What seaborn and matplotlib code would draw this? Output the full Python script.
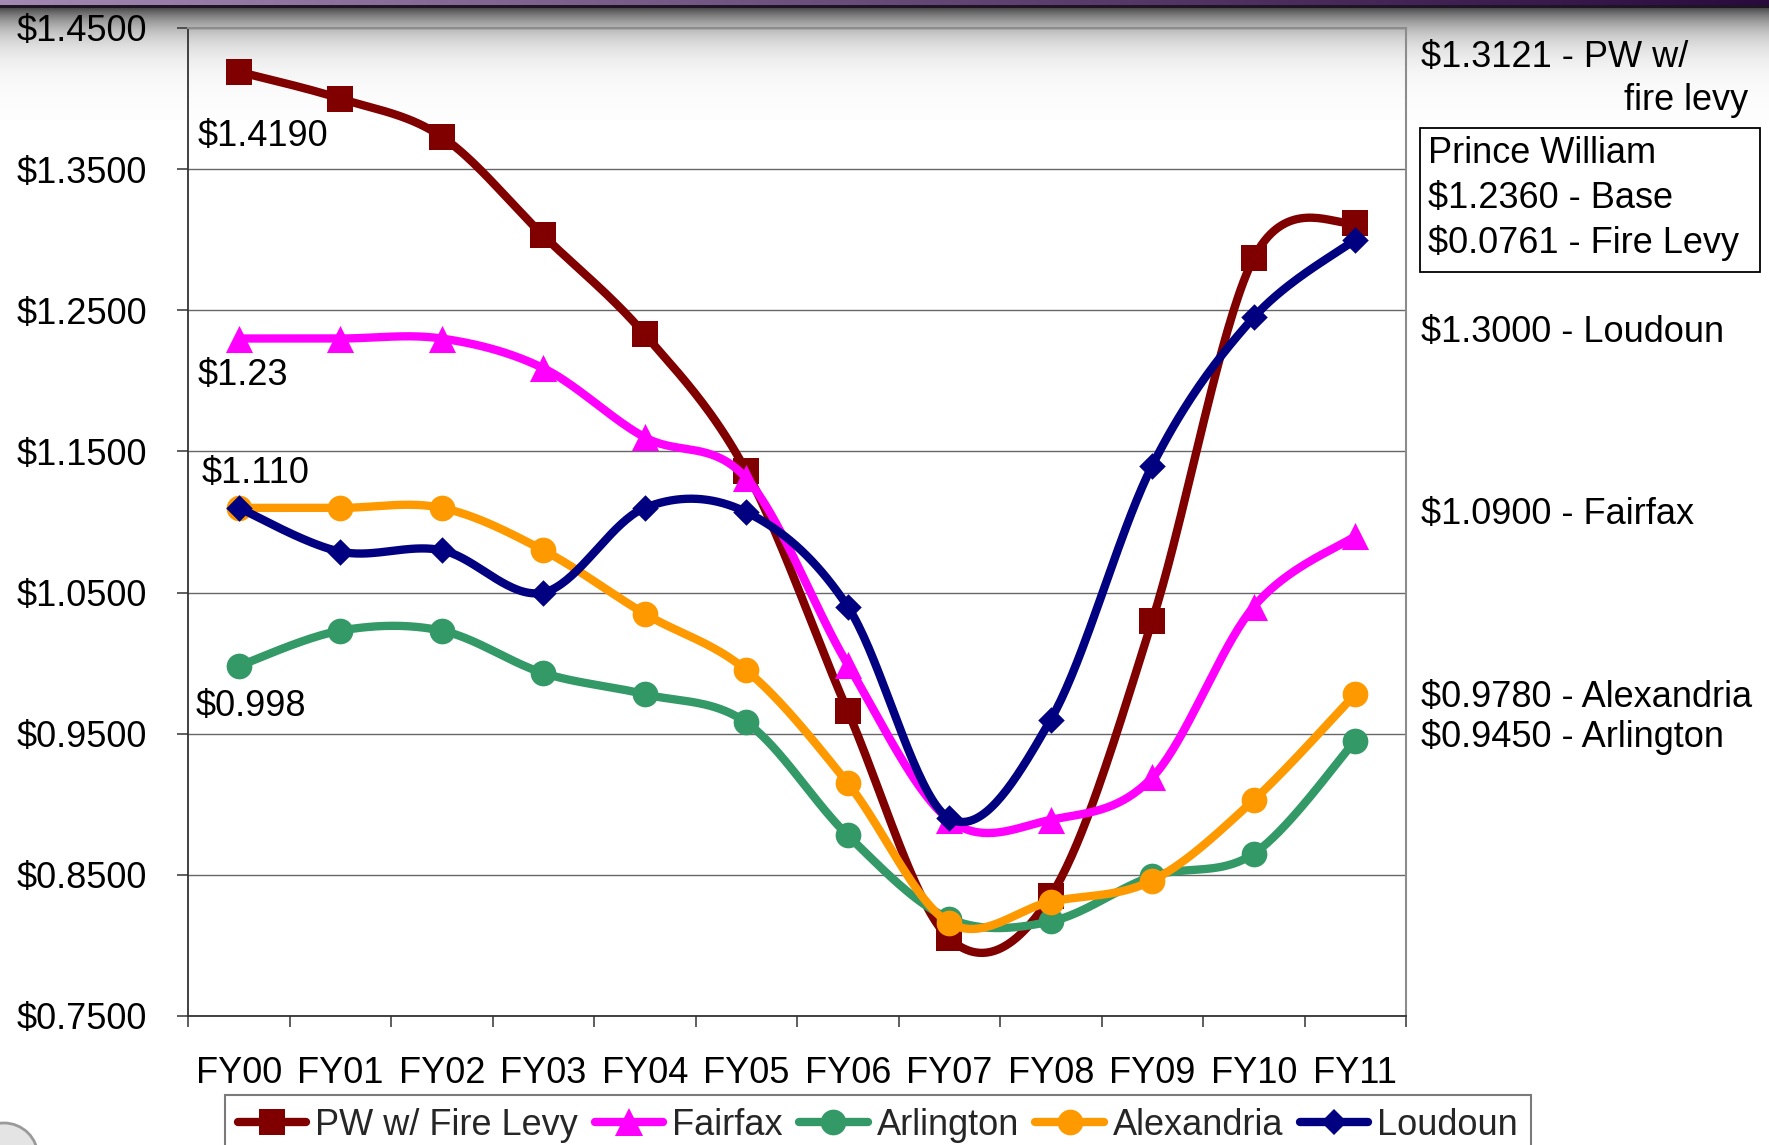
import numpy as np
import matplotlib
matplotlib.use("Agg")
import matplotlib.pyplot as plt
from matplotlib.lines import Line2D
from matplotlib.patches import Rectangle, Circle
import seaborn as sns

# ---- data -------------------------------------------------------------
years = ["FY00", "FY01", "FY02", "FY03", "FY04", "FY05",
         "FY06", "FY07", "FY08", "FY09", "FY10", "FY11"]

pw_fire_levy = [1.419, 1.400, 1.373, 1.303, 1.233, 1.136,
                0.966, 0.805, 0.835, 1.030, 1.287, 1.3121]
fairfax = [1.230, 1.230, 1.230, 1.209, 1.160, 1.131,
           0.999, 0.889, 0.889, 0.919, 1.040, 1.090]
arlington = [0.998, 1.023, 1.023, 0.993, 0.978, 0.958,
             0.878, 0.819, 0.817, 0.849, 0.865, 0.945]
alexandria = [1.110, 1.110, 1.110, 1.080, 1.035, 0.995,
              0.915, 0.816, 0.831, 0.846, 0.903, 0.978]
loudoun = [1.110, 1.079, 1.080, 1.050, 1.110, 1.107,
           1.040, 0.890, 0.960, 1.140, 1.245, 1.300]

series_names = ["PW w/ Fire Levy", "Fairfax", "Arlington", "Alexandria", "Loudoun"]
series_values = [pw_fire_levy, fairfax, arlington, alexandria, loudoun]

y_ticks = [0.75, 0.85, 0.95, 1.05, 1.15, 1.25, 1.35, 1.45]

left_notes = [("$1.4190", 198, 146), ("$1.23", 198, 385),
              ("$1.110", 202, 483), ("$0.998", 196, 716)]
right_notes = [("$1.3121 - PW w/", 1421, 67),
               ("$1.3000 - Loudoun", 1421, 342),
               ("$1.0900 - Fairfax", 1421, 524),
               ("$0.9780 - Alexandria", 1421, 707),
               ("$0.9450 - Arlington", 1421, 747)]
box_lines = ["Prince William", "$1.2360 - Base", "$0.0761 - Fire Levy"]

# ---- style ------------------------------------------------------------
colors = ["#800000", "#FF00FF", "#339966", "#FF9900", "#000080"]
markers = ["s", "^", "o", "o", "D"]
marker_sizes = [18.5, 19.5, 18.5, 18.5, 13.5]
LW = 6
FS = 26

sns.set_theme(style="white")
plt.rcParams["font.family"] = ["Liberation Sans", "DejaVu Sans"]

W, H = 1769, 1145
fig = plt.figure(figsize=(W / 100, H / 100), dpi=100)
fig.patch.set_facecolor("white")


def fx(px):
    return px / W


def fy(py):
    return 1 - py / H


# slide backdrop: purple title strip fading into grey at the top
bg = fig.add_axes([0, 0, 1, 1], zorder=0)
bg.set_xlim(0, W)
bg.set_ylim(H, 0)
bg.axis("off")
rows = 120
yy = np.arange(rows)[:, None]
xx = np.linspace(0, 1, W)[None, :]
g = 1 - 0.70 * np.exp(-(yy - 8) / 22.0)
img = np.repeat(g[:, :, None], 3, axis=2) * np.ones((rows, W, 1))
img = np.clip(img, 0, 1)
p_left = np.array([0.64, 0.54, 0.70])
p_right = np.array([0.16, 0.04, 0.24])
purple = (1 - xx[..., None]) * p_left + xx[..., None] * p_right
img[:5] = purple[0]
img[5:8] = np.array([0.12, 0.08, 0.14])
bg.imshow(img, extent=[0, W, rows, 0], aspect="auto", interpolation="bilinear")
bg.add_patch(Circle((4, H + 12), 34, facecolor="#e4e4e4", edgecolor="#9a9a9a", lw=2))

# ---- main chart -------------------------------------------------------
ax = fig.add_axes([fx(188), fy(1016), fx(1406) - fx(188), fy(28) - fy(1016)], zorder=1)
ax.set_facecolor("none")


def smooth(xs, ys, n=40):
    """Bezier smoothing through the points (Catmull-Rom style control points)."""
    P = np.column_stack([xs, ys]).astype(float)
    out = [P[0]]
    t = np.linspace(0, 1, n)[1:, None]
    for i in range(len(P) - 1):
        p0, p3 = P[i], P[i + 1]
        pm = P[i - 1] if i > 0 else P[i]
        pn = P[i + 2] if i + 2 < len(P) else P[i + 1]
        c1 = p0 + (p3 - pm) / 6
        c2 = p3 - (pn - p0) / 6
        seg = (1 - t) ** 3 * p0 + 3 * (1 - t) ** 2 * t * c1 + 3 * (1 - t) * t ** 2 * c2 + t ** 3 * p3
        out.extend(seg)
    return np.array(out)


xpos = np.arange(len(years))
for i, (vals, c, m, ms) in enumerate(zip(series_values, colors, markers, marker_sizes)):
    curve = smooth(xpos, vals)
    sns.lineplot(x=curve[:, 0], y=curve[:, 1], ax=ax, color=c, linewidth=LW,
                 sort=False, estimator=None, zorder=3 + 2 * i)
    sns.scatterplot(x=xpos, y=vals, ax=ax, marker=m, s=ms ** 2, color=c,
                    edgecolor=c, linewidth=0, zorder=4 + 2 * i, legend=False)

ax.set_xlim(-0.5, len(years) - 0.5)
ax.set_ylim(y_ticks[0], y_ticks[-1])
ax.set_xlabel("")
ax.set_ylabel("")
ax.set_yticks(y_ticks)
ax.set_yticklabels([f"${v:.4f}" for v in y_ticks])
ax.set_xticks(xpos)
ax.set_xticklabels(years)
ax.set_xticks(np.arange(-0.5, len(years)), minor=True)

ax.tick_params(axis="y", which="major", direction="out", length=8, width=1.1,
               color="#333333", pad=21.5, labelsize=FS, labelcolor="black", left=True)
ax.tick_params(axis="x", which="major", length=0, pad=28.5, labelsize=FS, labelcolor="black")
ax.tick_params(axis="x", which="minor", direction="out", length=8, width=1.1,
               color="#333333", bottom=True)

ax.yaxis.grid(True, color="#666666", linewidth=1.0)
ax.xaxis.grid(False)
ax.set_axisbelow(True)
for side in ["left", "bottom"]:
    ax.spines[side].set_color("#333333")
    ax.spines[side].set_linewidth(1.3)
for side in ["top", "right"]:
    ax.spines[side].set_color("#8c8c8c")
    ax.spines[side].set_linewidth(1.5)

# ---- legend -----------------------------------------------------------
handles = [Line2D([0], [0], color=c, lw=LW, marker=m, markersize=ms, markeredgewidth=0)
           for c, m, ms in zip(colors, markers, marker_sizes)]
leg = fig.legend(handles, series_names, loc="upper center",
                 bbox_to_anchor=(fx(878), fy(1095)), ncol=5, fontsize=FS,
                 frameon=True, fancybox=False, edgecolor="#7a7a7a", framealpha=1,
                 handlelength=1.9, handletextpad=0.25, columnspacing=0.45,
                 borderpad=0.35, borderaxespad=0)
leg.get_frame().set_linewidth(1.5)

# ---- value notes ------------------------------------------------------
for s, x, y in left_notes + right_notes:
    fig.text(fx(x), fy(y), s, fontsize=FS, ha="left", va="baseline", color="black")
fig.text(fx(1748), fy(110), "fire levy", fontsize=FS, ha="right", va="baseline", color="black")
for s, y in zip(box_lines, [163, 208, 253]):
    fig.text(fx(1428), fy(y), s, fontsize=FS, ha="left", va="baseline", color="black")
fig.add_artist(Rectangle((fx(1420), fy(272)), fx(1760) - fx(1420), fy(128) - fy(272),
                         transform=fig.transFigure, fill=False, edgecolor="black", lw=1.3))

fig.savefig("out.png", dpi=100)
